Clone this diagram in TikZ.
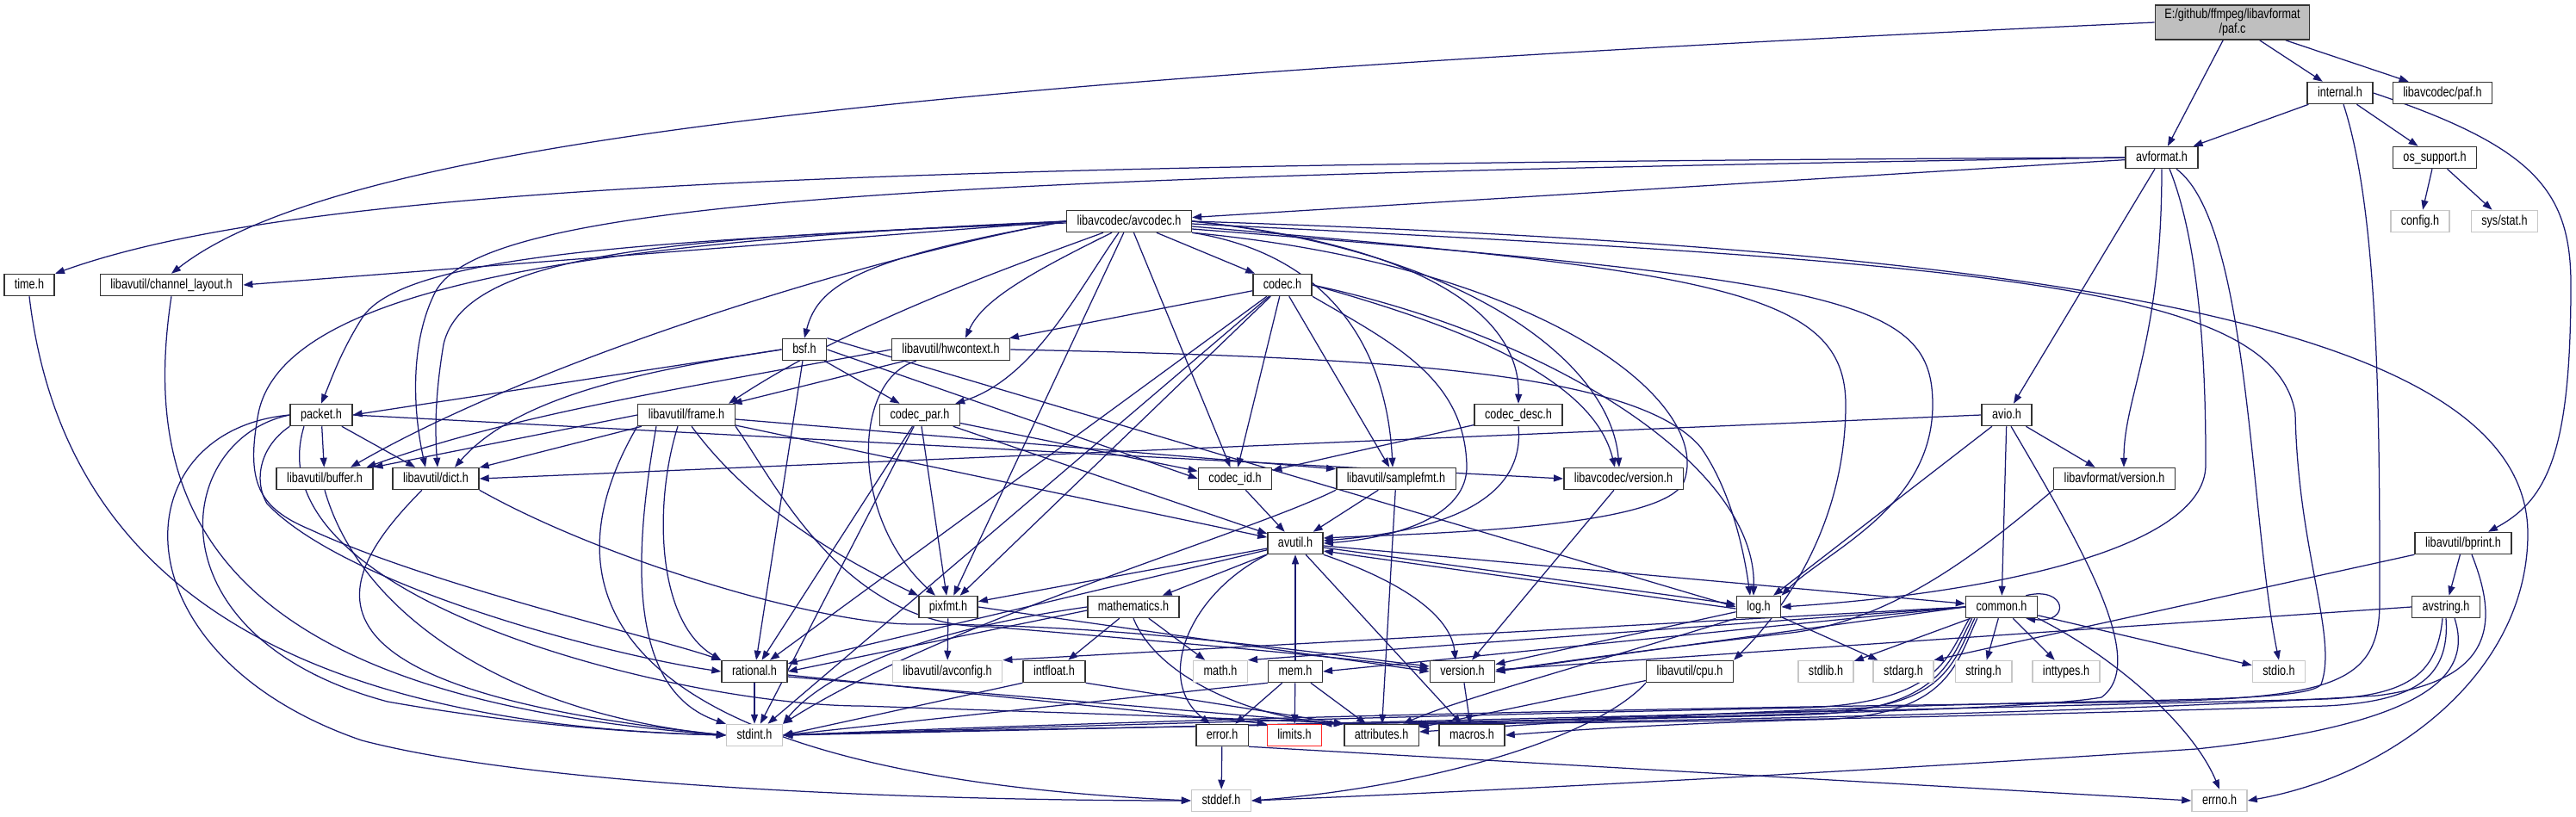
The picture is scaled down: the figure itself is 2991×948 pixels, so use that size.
\documentclass[tikz,border=0pt]{standalone}
\usepackage{fontspec}
\setmainfont[FakeStretch=0.79]{Liberation Sans}
\usetikzlibrary{arrows.meta,backgrounds}
\definecolor{navy}{RGB}{25,25,112}
\definecolor{rootgray}{RGB}{191,191,191}

\begin{document}
\begin{tikzpicture}[x=1pt, y=-1pt,
hdr/.style={draw=black!80, line width=1.5pt, fill=white, inner xsep=12pt, inner ysep=0pt, minimum height=25pt, text height=11.5pt, text depth=3pt, font=\fontsize{16pt}{18pt}\selectfont},
sys/.style={hdr, draw=black!22},
missing/.style={hdr, draw=red!85},
root/.style={draw=black!80, line width=1.5pt, fill=rootgray, inner xsep=11pt, inner ysep=1pt, minimum height=40pt, align=center, font=\fontsize{16pt}{17pt}\selectfont},
link/.style={-{Triangle[length=11pt,width=8pt]}, line width=1.25pt, navy}]
\useasboundingbox (0,0) rectangle (2991,948);

\node[root] (paf) at (2592,26) {E:/github/ffmpeg/libavformat\\/paf.c};
\node[hdr] (internal) at (2717,108) {internal.h};
\node[hdr] (pafh) at (2836,108) {libavcodec/paf.h};
\node[hdr] (avformat) at (2510,183) {avformat.h};
\node[hdr] (ossupport) at (2827,183) {os\_support.h};
\node[sys] (config) at (2810,257) {config.h};
\node[sys] (sysstat) at (2908,257) {sys/stat.h};
\node[hdr] (avcodec) at (1311,257) {libavcodec/avcodec.h};
\node[hdr] (timeh) at (34,331) {time.h};
\node[hdr] (chlayout) at (199,331) {libavutil/channel\_layout.h};
\node[hdr] (codec) at (1489,331) {codec.h};
\node[hdr] (bsf) at (934,406) {bsf.h};
\node[hdr] (hwctx) at (1104,406) {libavutil/hwcontext.h};
\node[hdr] (packet) at (373,482) {packet.h};
\node[hdr] (frame) at (797,482) {libavutil/frame.h};
\node[hdr] (codecpar) at (1068,482) {codec\_par.h};
\node[hdr] (codecdesc) at (1763,482) {codec\_desc.h};
\node[hdr] (avio) at (2330,482) {avio.h};
\node[hdr] (buffer) at (377,556) {libavutil/buffer.h};
\node[hdr] (dict) at (506,556) {libavutil/dict.h};
\node[hdr] (codecid) at (1434,556) {codec\_id.h};
\node[hdr] (samplefmt) at (1621,556) {libavutil/samplefmt.h};
\node[hdr] (lcversion) at (1885,556) {libavcodec/version.h};
\node[hdr] (lfversion) at (2455,556) {libavformat/version.h};
\node[hdr] (avutil) at (1504,631) {avutil.h};
\node[hdr] (bprint) at (2860,631) {libavutil/bprint.h};
\node[hdr] (pixfmt) at (1101,705) {pixfmt.h};
\node[hdr] (mathematics) at (1316,705) {mathematics.h};
\node[hdr] (log) at (2042,705) {log.h};
\node[hdr] (common) at (2324,705) {common.h};
\node[hdr] (avstring) at (2840,705) {avstring.h};
\node[hdr] (rational) at (876,780) {rational.h};
\node[sys] (avconfig) at (1100,780) {libavutil/avconfig.h};
\node[hdr] (intfloat) at (1224,780) {intfloat.h};
\node[sys] (math) at (1417,780) {math.h};
\node[hdr] (mem) at (1504,780) {mem.h};
\node[hdr] (version) at (1698,780) {version.h};
\node[hdr] (cpu) at (1962,780) {libavutil/cpu.h};
\node[sys] (stdlib) at (2120,780) {stdlib.h};
\node[sys] (stdarg) at (2210,780) {stdarg.h};
\node[sys] (string) at (2303,780) {string.h};
\node[sys] (inttypes) at (2399,780) {inttypes.h};
\node[sys] (stdio) at (2646,780) {stdio.h};
\node[sys] (stdint) at (876,854) {stdint.h};
\node[hdr] (error) at (1419,854) {error.h};
\node[missing] (limits) at (1503,854) {limits.h};
\node[hdr] (attributes) at (1604,854) {attributes.h};
\node[hdr] (macros) at (1709,854) {macros.h};
\node[sys] (stddef) at (1418,930) {stddef.h};
\node[sys] (errno) at (2577,930) {errno.h};

\begin{scope}[on background layer]
\fill[white] (0,0) rectangle (2991,948);
% paf.c
\draw[link] (paf.west) .. controls (1100,90) and (400,160) .. (chlayout.north);
\draw[link] (paf) -- (avformat);
\draw[link] (paf) -- (internal);
\draw[link] (paf) -- (pafh);
% internal.h
\draw[link] (internal) -- (avformat);
\draw[link] (internal) -- (ossupport);
\draw[link] (internal.east) .. controls (2940,170) and (2985,220) .. (2985,330) .. controls (2985,520) and (2960,580) .. ([xshift=29]bprint.north);
\draw[link] ([xshift=4]internal.south) .. controls (2763,250) and (2763,500) .. (2763,700) .. controls (2763,800) and (2700,812) .. (2450,816) .. controls (1600,826) and (1100,846) .. (stdint.east);
\draw[link] (ossupport) -- (config);
\draw[link] (ossupport) -- (sysstat);
% avformat.h
\draw[link] (avformat.west) .. controls (1000,190) and (350,215) .. (timeh.north east);
\draw[link] ([xshift=17]avformat.south) .. controls (2612,260) and (2612,600) .. (stdio.north);
\draw[link] ([xshift=9]avformat.south) .. controls (2561,300) and (2561,480) .. (2561,540) .. controls (2561,640) and (2300,690) .. (log.east);
\draw[link] (avformat.south) .. controls (2510,400) and (2466,460) .. ([xshift=11]lfversion.north);
\draw[link] (avformat) -- (avio);
\draw[link] (avformat) -- (avcodec);
\draw[link] (avformat.west) .. controls (1100,205) and (560,230) .. (505,340) .. controls (475,400) and (480,480) .. ([xshift=-12]dict.north);
% avio.h
\draw[link] (avio.west) -- (dict.east);
\draw[link] (avio) -- (common);
\draw[link] (avio) -- (log);
\draw[link] (avio) -- (lfversion);
\draw[link] ([xshift=5]avio.south) .. controls (2420,640) and (2495,770) .. (2440,810) .. controls (2300,835) and (1300,842) .. (stdint.east);
% avcodec.h
\draw[link] (avcodec.east) .. controls (2400,290) and (2935,380) .. (2935,620) .. controls (2935,780) and (2780,900) .. (errno.east);
\draw[link] (avcodec.south east) .. controls (1540,295) and (1610,400) .. ([xshift=-4]samplefmt.north);
\draw[link] ([yshift=-3]avcodec.east) .. controls (2300,305) and (2640,330) .. (2665,480) .. controls (2668,640) and (2715,740) .. (2695,795) .. controls (2680,815) and (2500,812) .. (2300,818) .. controls (2000,826) and (1800,840) .. ([yshift=4]attributes.east);
\draw[link] (avcodec.south east) .. controls (1800,310) and (1990,470) .. (1955,560) .. controls (1930,615) and (1640,620) .. ([yshift=6]avutil.east);
\draw[link] (avcodec.west) .. controls (1000,300) and (620,420) .. ([xshift=30]buffer.north);
\draw[link] ([yshift=-6]avcodec.east) .. controls (2000,315) and (2143,340) .. (2143,470) .. controls (2143,600) and (2080,700) .. (cpu.north east);
\draw[link] ([yshift=-9]avcodec.east) .. controls (2150,325) and (2244,350) .. (2244,470) .. controls (2244,590) and (2120,640) .. (log.north east);
\draw[link] (avcodec.west) -- (chlayout.east);
\draw[link] ([yshift=-2]avcodec.west) .. controls (800,275) and (540,290) .. (515,400) .. controls (505,460) and (505,500) .. ([xshift=2]dict.north);
\draw[link] ([xshift=-30]avcodec.south) .. controls (1150,318) and (980,380) .. ([xshift=-8]frame.north east);
\draw[link] ([xshift=-20]avcodec.south) .. controls (1190,320) and (1140,350) .. ([xshift=17]hwctx.north);
\draw[link] (avcodec) -- (pixfmt);
\draw[link] (avcodec.west) .. controls (700,280) and (330,330) .. (300,480) .. controls (285,560) and (300,590) .. (360,615) .. controls (500,680) and (760,740) .. (rational.north west);
\draw[link] (avcodec.west) .. controls (800,280) and (470,290) .. (420,370) .. controls (395,410) and (385,440) .. (packet.north);
\draw[link] (avcodec.west) .. controls (1000,300) and (950,330) .. (bsf.north);
\draw[link] (avcodec) -- (codec);
\draw[link] (avcodec.east) .. controls (1660,285) and (1765,370) .. (codecdesc.north);
\draw[link] ([xshift=-12]avcodec.south) .. controls (1250,340) and (1200,440) .. ([xshift=-6]codecpar.north east);
\draw[link] (avcodec) -- (codecid);
\draw[link] (avcodec.east) .. controls (1700,290) and (1870,420) .. ([xshift=-5]lcversion.north);
% bsf.h
\draw[link] (bsf.west) -- (packet.east);
\draw[link] (bsf) -- (codecpar);
\draw[link] (bsf.west) .. controls (750,430) and (600,460) .. ([xshift=22]dict.north);
\draw[link] (bsf.east) -- (codecid.west);
\draw[link] (bsf) -- (rational);
\draw[link] (bsf.north east) -- (log.west);
% codec.h
\draw[link] (codec) -- (stdint);
\draw[link] (codec.south east) .. controls (1620,400) and (1700,440) .. (1703,540) .. controls (1705,600) and (1620,625) .. (avutil.east);
\draw[link] (codec) -- (hwctx);
\draw[link] (codec.east) .. controls (1800,390) and (2040,540) .. ([xshift=-6]log.north);
\draw[link] (codec) -- (pixfmt);
\draw[link] (codec) -- (rational);
\draw[link] (codec) -- (samplefmt);
\draw[link] (codec) -- (codecid);
\draw[link] (codec.east) .. controls (1700,380) and (1850,440) .. ([xshift=-10]lcversion.north);
% codec_desc.h, codec_id.h, codec_par.h
\draw[link] (codecdesc.south) .. controls (1770,570) and (1700,615) .. ([yshift=3]avutil.east);
\draw[link] (codecdesc) -- (codecid);
\draw[link] (codecid) -- (avutil);
\draw[link] (codecpar) -- (stdint);
\draw[link] (codecpar) -- (avutil);
\draw[link] (codecpar) -- (rational);
\draw[link] (codecpar) -- (pixfmt);
\draw[link] (codecpar) -- (codecid);
% packet.h
\draw[link] (packet.west) .. controls (140,500) and (130,760) .. (420,860) .. controls (650,920) and (1150,930) .. (stddef.west);
\draw[link] (packet.west) .. controls (200,510) and (170,740) .. (450,815) .. controls (620,845) and (760,852) .. (stdint.west);
\draw[link] ([xshift=-20]packet.south) .. controls (290,700) and (800,820) .. (1000,820) .. controls (1300,830) and (1480,836) .. (attributes.north west);
\draw[link] (packet) -- (buffer);
\draw[link] (packet) -- (dict);
\draw[link] (packet.south west) .. controls (300,520) and (295,560) .. (310,585) .. controls (400,680) and (700,760) .. (rational.west);
\draw[link] (packet.east) -- (lcversion.west);
\draw[link] (lcversion) -- (version);
% samplefmt.h
\draw[link] (samplefmt.south west) .. controls (1450,620) and (1100,720) .. (stdint.north east);
\draw[link] (samplefmt) -- (avutil);
\draw[link] (samplefmt) -- (attributes);
% avutil.h
\draw[link] (avutil) -- (common);
\draw[link] (avutil.south west) .. controls (1380,690) and (1340,790) .. ([xshift=-14]error.north);
\draw[link] (avutil) -- (rational);
\draw[link] (avutil.south east) .. controls (1640,680) and (1685,720) .. ([xshift=-8]version.north);
\draw[link] (avutil) -- (macros);
\draw[link] (avutil) -- (mathematics);
\draw[link] ([yshift=-5]avutil.east) -- ([yshift=3]log.west);
\draw[link] (avutil) -- (pixfmt);
% log.h
\draw[link] (log) -- (stdarg);
\draw[link] ([yshift=-2]log.west) -- ([yshift=-9]avutil.east);
\draw[link] (log.south west) .. controls (1850,770) and (1700,810) .. ([xshift=25]attributes.north);
\draw[link] (log) -- (version);
% common.h
\draw[link] (common.south east) .. controls (2450,760) and (2545,840) .. (errno.north);
\draw[link] (common) -- (inttypes);
\draw[link] ([xshift=8]common.south west) .. controls (2265,765) and (2255,825) .. (2100,830) .. controls (1900,836) and (1600,840) .. (limits.north east);
\draw[link] ([xshift=5]common.south west) .. controls (2262,760) and (2255,815) .. (2100,822) .. controls (1600,832) and (1100,848) .. (stdint.east);
\draw[link] ([xshift=11]common.south west) .. controls (2268,770) and (2258,828) .. (2100,826) .. controls (1900,832) and (1700,840) .. ([xshift=-8]attributes.north east);
\draw[link] ([xshift=14]common.south west) .. controls (2270,775) and (2260,835) .. (2100,836) .. controls (1900,842) and (1800,850) .. (macros.east);
\draw[link] (common.west) -- (math.north east);
\draw[link] (common) -- (stdio);
\draw[link] (common) -- (stdlib);
\draw[link] (common) -- (string);
\draw[link] (common.west) -- (version.east);
\draw[link] (common.west) -- (avconfig.north east);
\draw[link] (common.west) -- (mem.east);
\draw[link] ([xshift=-14]common.north east) .. controls (2400,680) and (2405,725) .. ([xshift=-14]common.south east);
% error.h, rational.h, version.h
\draw[link] (error.south east) -- (errno.west);
\draw[link] (error) -- (stddef);
\draw[link] (rational) -- (stdint);
\draw[link] ([yshift=-4]rational.east) -- (limits.north west);
\draw[link] ([yshift=-6]rational.east) -- (attributes.north west);
\draw[link] (version) -- (macros);
% mathematics.h, intfloat.h, pixfmt.h, mem.h
\draw[link] (mathematics.west) .. controls (1050,735) and (950,790) .. (stdint.north east);
\draw[link] (mathematics) -- (math);
\draw[link] (mathematics.south) .. controls (1345,790) and (1460,835) .. (attributes.north west);
\draw[link] ([yshift=-4]mathematics.west) -- (rational.east);
\draw[link] (mathematics) -- (intfloat);
\draw[link] (intfloat.south west) -- (stdint.east);
\draw[link] (intfloat.south east) -- (attributes.north west);
\draw[link] (pixfmt) -- (avconfig);
\draw[link] (pixfmt.east) -- (version.west);
\draw[link] (mem) -- (limits);
\draw[link] (mem.south west) -- (stdint.east);
\draw[link] (mem) -- (attributes);
\draw[link] (mem) -- (error);
\draw[link] (mem) -- (avutil);
% buffer.h, dict.h, frame.h, hwcontext.h
\draw[link] (buffer.south) .. controls (420,720) and (600,830) .. (stdint.west);
\draw[link] ([xshift=-16]dict.south) .. controls (380,680) and (330,800) .. (stdint.west);
\draw[link] (dict.south east) .. controls (700,650) and (950,725) .. (1060,725) .. controls (1300,725) and (1500,755) .. ([yshift=6]version.west);
\draw[link] (frame.south west) .. controls (620,700) and (720,900) .. (stddef.west);
\draw[link] ([xshift=-35]frame.south) .. controls (740,620) and (720,800) .. (stdint.north west);
\draw[link] (frame) -- (avutil);
\draw[link] (frame.west) -- (buffer.north east);
\draw[link] (frame) -- (dict);
\draw[link] ([xshift=-10]frame.south) .. controls (760,580) and (760,720) .. (rational.north west);
\draw[link] ([yshift=-5]frame.east) -- ([yshift=-2]samplefmt.north west);
\draw[link] ([xshift=6]frame.south) .. controls (880,600) and (1000,660) .. (pixfmt.north west);
\draw[link] (frame.south east) .. controls (900,560) and (980,730) .. (1150,728) .. controls (1350,745) and (1550,762) .. ([yshift=3]version.west);
\draw[link] (hwctx.west) .. controls (800,450) and (600,480) .. ([xshift=-8]buffer.north east);
\draw[link] (hwctx) -- (frame);
\draw[link] (hwctx.east) .. controls (1600,415) and (1900,430) .. (1975,520) .. controls (2010,570) and (2025,640) .. ([xshift=-10]log.north);
\draw[link] ([xshift=-40]hwctx.south) .. controls (990,440) and (985,600) .. ([xshift=-15]pixfmt.north);
% channel_layout.h, time.h, cpu.h
\draw[link] (chlayout.south) .. controls (160,600) and (260,810) .. (stdint.west);
\draw[link] (timeh.south) .. controls (70,650) and (300,840) .. (stdint.west);
\draw[link] (cpu.south west) .. controls (1850,860) and (1650,915) .. (stddef.east);
\draw[link] (cpu) -- (attributes);
% bprint.h, avstring.h, libavformat/version.h
\draw[link] (bprint.south west) -- (stdarg.north east);
\draw[link] ([xshift=10]bprint.south) .. controls (2900,720) and (2900,790) .. (2760,808) .. controls (2400,830) and (1900,838) .. ([xshift=-3]attributes.north east);
\draw[link] (bprint) -- (avstring);
\draw[link] ([xshift=10]avstring.south) .. controls (2870,780) and (2830,840) .. (2550,870) .. controls (2100,900) and (1700,920) .. (stddef.east);
\draw[link] ([xshift=-4]avstring.south) .. controls (2830,780) and (2800,808) .. (2700,812) .. controls (2000,830) and (1200,848) .. (stdint.east);
\draw[link] (avstring.south) .. controls (2845,790) and (2800,815) .. (2700,820) .. controls (2200,835) and (1900,840) .. ([xshift=-14]attributes.north east);
\draw[link] (avstring.west) -- ([yshift=2]version.east);
\draw[link] (lfversion.south west) .. controls (2300,640) and (2200,720) .. (2080,735) .. controls (1950,750) and (1800,770) .. (version.east);
\end{scope}
\end{tikzpicture}
\end{document}
